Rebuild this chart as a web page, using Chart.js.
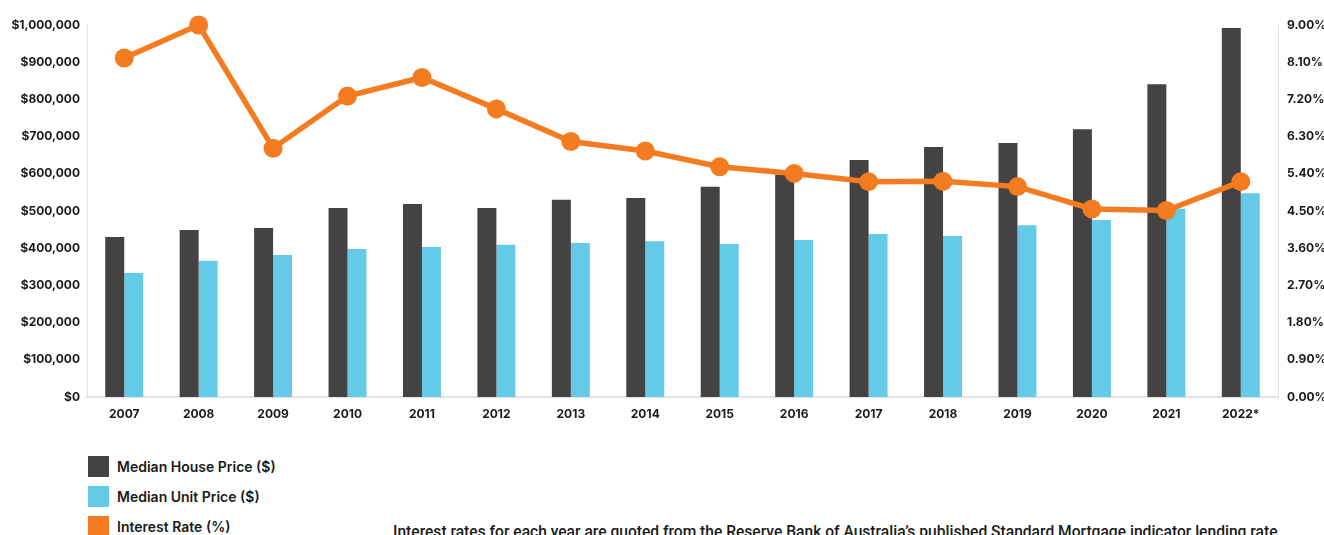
<!DOCTYPE html>
<html lang="en">
<head>
<meta charset="UTF-8">
<title>House Prices vs Interest Rates</title>
<script src="https://cdn.jsdelivr.net/npm/chart.js"></script>
<style>
    html, body {
        margin: 0;
        padding: 0;
        background: #ffffff;
        width: 1324px;
        height: 535px;
        overflow: hidden;
        font-family: "Inter", "Noto Sans", sans-serif;
        color: #1a1a1a;
    }
    .chart-box {
        position: absolute;
        left: 0;
        top: 0;
        width: 1324px;
        height: 425px;
    }
    .legend {
        position: absolute;
        left: 88px;
        top: 451px;
    }
    .legend-item {
        display: flex;
        align-items: center;
        height: 30px;
        font-size: 14px;
        font-weight: 600;
    }
    .swatch {
        width: 21px;
        height: 21px;
        margin-right: 8px;
    }
    .note {
        position: absolute;
        left: 393px;
        top: 523px;
        font-family: "Roboto", sans-serif;
        font-size: 15.6px;
        font-weight: 500;
        white-space: nowrap;
    }
</style>
</head>
<body>
<div class="chart-box">
    <canvas id="priceChart"></canvas>
</div>
<div class="legend">
    <div class="legend-item"><span class="swatch" style="background:#444243"></span>Median House Price ($)</div>
    <div class="legend-item"><span class="swatch" style="background:#63cae7"></span>Median Unit Price ($)</div>
    <div class="legend-item"><span class="swatch" style="background:#f47b20"></span>Interest Rate (%)</div>
</div>
<div class="note">Interest rates for each year are quoted from the Reserve Bank of Australia’s published Standard Mortgage indicator lending rate</div>

<script>
const years = ['2007', '2008', '2009', '2010', '2011', '2012', '2013', '2014',
               '2015', '2016', '2017', '2018', '2019', '2020', '2021', '2022*'];
const housePrice = [430000, 449000, 454000, 508000, 519000, 508000, 530000, 535000,
                    565000, 598000, 637000, 672000, 683000, 720000, 841000, 992000];
const unitPrice = [333000, 366000, 382000, 398000, 403000, 409000, 414000, 419000,
                   411000, 422000, 438000, 433000, 462000, 476000, 506000, 548000];
const interestRate = [8.20, 9.00, 6.02, 7.28, 7.73, 6.97, 6.18, 5.95,
                      5.57, 5.41, 5.21, 5.22, 5.09, 4.55, 4.51, 5.21];

const tickFont = { family: 'Inter', size: 12, weight: '700' };
const tickColor = '#1a1a1a';
const axisLine = '#e2e2e2';

var ctx = document.getElementById('priceChart').getContext('2d');
var priceChart = new Chart(ctx, {
    type: 'bar',
    data: {
        labels: years,
        datasets: [{
            type: 'line',
            label: 'Interest Rate (%)',
            data: interestRate,
            yAxisID: 'yRate',
            borderColor: '#f47b20',
            backgroundColor: '#f47b20',
            borderWidth: 5.5,
            pointRadius: 9.5,
            pointBorderWidth: 0,
            pointBackgroundColor: '#f47b20',
            tension: 0,
            clip: false,
            order: 0
        }, {
            label: 'Median House Price ($)',
            data: housePrice,
            yAxisID: 'yPrice',
            backgroundColor: '#444243',
            categoryPercentage: 0.51,
            barPercentage: 1,
            order: 1
        }, {
            label: 'Median Unit Price ($)',
            data: unitPrice,
            yAxisID: 'yPrice',
            backgroundColor: '#63cae7',
            categoryPercentage: 0.51,
            barPercentage: 1,
            order: 1
        }]
    },
    options: {
        responsive: true,
        maintainAspectRatio: false,
        animation: false,
        layout: { padding: { top: 25, left: 0, right: 0, bottom: 0 } },
        plugins: {
            legend: { display: false },
            tooltip: { enabled: false }
        },
        scales: {
            x: {
                grid: { display: false, drawTicks: false },
                border: { display: true, color: axisLine, width: 2 },
                ticks: { color: tickColor, font: tickFont, padding: 10, maxRotation: 0 },
                afterFit: function (scale) { scale.height = 28; }
            },
            yPrice: {
                position: 'left',
                min: 0,
                max: 1000000,
                grid: { display: false, drawTicks: false },
                border: { display: true, color: axisLine, width: 1 },
                ticks: {
                    stepSize: 100000,
                    color: tickColor,
                    font: tickFont,
                    padding: 7,
                    callback: function (v) { return '$' + v.toLocaleString('en-US'); }
                },
                afterFit: function (scale) { scale.width = 87; }
            },
            yRate: {
                position: 'right',
                min: 0,
                max: 9,
                grid: { display: false, drawTicks: false },
                border: { display: true, color: axisLine, width: 1 },
                ticks: {
                    stepSize: 0.9,
                    color: tickColor,
                    font: tickFont,
                    padding: 9,
                    callback: function (v) { return v.toFixed(2) + '%'; }
                },
                afterFit: function (scale) { scale.width = 46; }
            }
        }
    }
});
</script>
</body>
</html>
